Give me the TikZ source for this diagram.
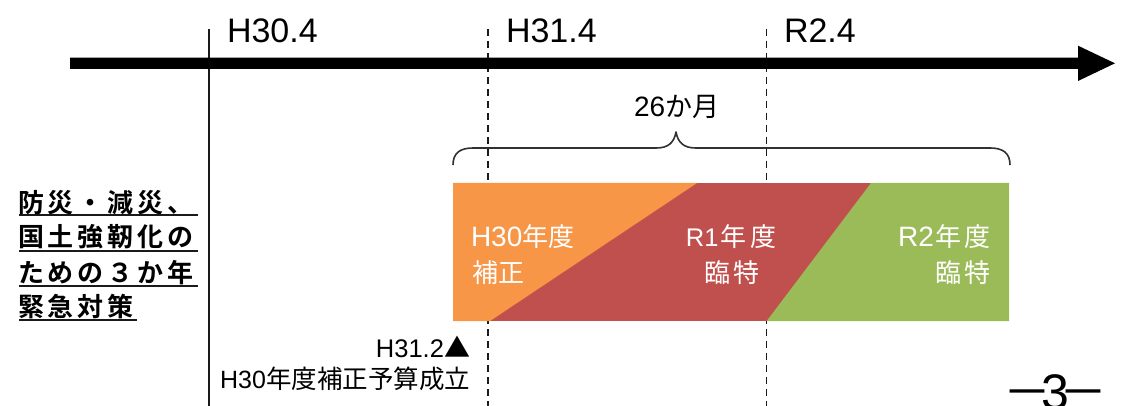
\documentclass[tikz,border=0pt]{standalone}
\usepackage{fontspec}
\setmainfont{Liberation Sans}
\newfontfamily\jp{Noto Sans CJK JP}
\newfontfamily\jpb{Noto Sans CJK JP Bold}
\newcommand\fsz[1]{\fontsize{#1}{#1}\selectfont}
\makeatletter
\def\trk@end{TRKEND}
\def\trk#1#2{\def\trk@k{#1}\trk@a#2\trk@end}
\def\trk@a#1{\ifx#1\trk@end\else #1\expandafter\trk@b\fi}
\def\trk@b#1{\ifx#1\trk@end\else\kern\trk@k\relax #1\expandafter\trk@b\fi}
\makeatother
\definecolor{barorange}{HTML}{F79646}
\definecolor{barred}{HTML}{C0504D}
\definecolor{bargreen}{HTML}{9BBB59}
\definecolor{ink}{HTML}{1A1A1A}
\tikzset{
  lab/.style={inner sep=0pt, outer sep=0pt, anchor=base west},
  labr/.style={inner sep=0pt, outer sep=0pt, anchor=base east},
  labc/.style={inner sep=0pt, outer sep=0pt, anchor=base},
  tick/.style={lab, font=\fsz{34}},
  ttl/.style={lab, font=\jpb\fsz{26}},
  bartxt/.style={text=white, font=\fsz{28}},
  vsolid/.style={line width=1.5pt, draw=ink},
  vdash/.style={line width=1.5pt, draw=ink, dash pattern=on 7pt off 5pt},
  ulline/.style={line width=2pt, draw=ink},
  bracepath/.style={line width=1.6pt, draw=ink!90, line join=round},
}
\begin{document}
\begin{tikzpicture}[x=1pt,y=-1pt]
\useasboundingbox (0,0) rectangle (1124,406);
\clip (0,0) rectangle (1124,406);
\fill[white] (0,0) rectangle (1124,406);

% vertical guide lines
\coordinate (v1t) at (209,29);   \coordinate (v1b) at (209,406);
\coordinate (v2t) at (488,29);   \coordinate (v2b) at (488,406);
\coordinate (v3t) at (766.7,29); \coordinate (v3b) at (766.7,406);
\draw[vsolid] (v1t) -- (v1b);
\draw[vdash] (v2t) -- (v2b);
\draw[vdash] (v3t) -- (v3b);

% time axis arrow
\fill[black] (70,57.7) -- (1078,57.7) -- (1078,45.7) -- (1115,63.3)
  -- (1078,81) -- (1078,69) -- (70,69) -- cycle;

% axis labels
\node[tick] (h304) at (227,42.3) {H30.4};
\node[tick] (h314) at (506,42.3) {H31.4};
\node[tick] (r24)  at (784,42.3) {R2.4};

% brace and its label
\draw[bracepath] (453,165) .. controls (453,153) and (460,148) .. (473,148)
  -- (656,148) .. controls (668,148) and (674,143) .. (676,132)
  .. controls (678,143) and (684,148) .. (696,148)
  -- (990,148) .. controls (1003,148) and (1010,153) .. (1010,165);
\node[lab, font=\fsz{28}] (months) at (634,116.7) {26{\jp\fsz{27}か月}};

% bar
\fill[barred] (453,183) rectangle (1009,321);
\fill[barorange] (453,183) -- (697,183) -- (490,321) -- (453,321) -- cycle;
\fill[bargreen] (871,183) -- (1009,183) -- (1009,321) -- (766.7,321) -- cycle;

\node[lab, bartxt] (a1) at (471,246) {H30{\jp\fsz{26}年度}};
\node[lab, bartxt] (a2) at (472,282) {{\jp\fsz{26}\trk{1pt}{補正}}};
\node[labc, bartxt] (b1) at (731,246) {{\fsz{25.5}R1}\kern2pt{\jp\fsz{26}\trk{3.5pt}{年度}}};
\node[labc, bartxt] (b2) at (732,282) {{\jp\fsz{26}\trk{3pt}{臨特}}};
\node[labr, bartxt] (c1) at (990,246) {R2\kern1pt{\jp\fsz{26}\trk{3pt}{年度}}};
\node[labr, bartxt] (c2) at (990,282) {{\jp\fsz{26}\trk{3pt}{臨特}}};

% left title
\node[ttl] (ttl1) at (18,212) {\trk{4pt}{防災・減災、}};
\node[ttl] (ttl2) at (18,247) {\trk{4pt}{国土強靭化の}};
\node[ttl] (ttl3) at (18,282) {\trk{4pt}{ための３か年}};
\node[ttl] (ttl4) at (18,316) {\trk{4pt}{緊急対策}};
\draw[ulline] (19,215.5) -- (198,215.5);
\draw[ulline] (19,250.8) -- (198,250.8);
\draw[ulline] (19,286) -- (198,286);
\draw[ulline] (19,319.5) -- (137,319.5);

% bottom note
\node[labr, font=\fsz{25.5}] (n1) at (470,357) {H31.2{\jp\fsz{26}▲}};
\node[labr, font=\fsz{25}] (n2) at (470,388) {H30{\jp\fsz{25.5}年度補正予算成立}};

% page number
\node[lab, font=\fsz{50}] (pg) at (1003,409) {{\jp\fsz{48}－}\kern-10pt 3\kern-9pt{\jp\fsz{48}－}};
\end{tikzpicture}
\end{document}
